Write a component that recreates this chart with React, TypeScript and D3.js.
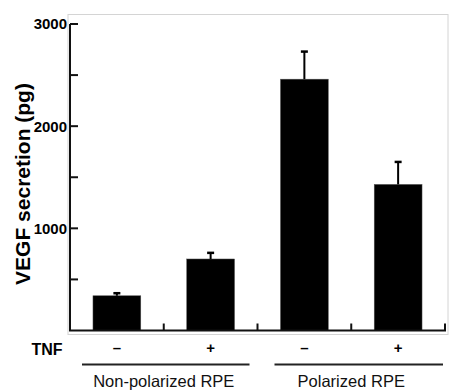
import React, { useRef, useEffect } from "react";
import * as d3 from "d3";

// Datos
const conditions = ["np-", "np+", "p-", "p+"];
const tnfLabels = ["–", "+", "–", "+"];
const values = [340, 700, 2460, 1430];
const errors = [25, 60, 270, 220];
const groups = ["Non-polarized RPE", "Polarized RPE"];
const groupMembers = [
  ["np-", "np+"],
  ["p-", "p+"],
];
const majorTicks = [1000, 2000, 3000];
const minorTicks = [500, 1500, 2500];

const App = () => {
  const ref = useRef<SVGSVGElement>(null);
  const width = 449;
  const height = 391;

  useEffect(() => {
    const container = ref.current;
    if (!container) return;
    d3.select(container).selectChildren().remove();
    const svg = d3.select(container);
    const font = "'Liberation Sans', Arial, sans-serif";

    // Marco gris del área de gráfico
    svg
      .append("rect")
      .attr("x", 68)
      .attr("y", 14.5)
      .attr("width", 380)
      .attr("height", 320)
      .attr("fill", "none")
      .attr("stroke", "#d4d4d4")
      .attr("stroke-width", 1);

    const left = 70,
      right = 445,
      bottom = 330.5,
      top = 24;

    const y = d3.scaleLinear().domain([0, 3000]).range([bottom, top]);
    const x = d3
      .scaleBand()
      .domain(conditions)
      .range([left, right])
      .paddingInner(0.49)
      .paddingOuter(0.245);
    const xCell = d3.scaleBand().domain(conditions).range([left, right]);

    // Barras
    const bar = svg.selectAll("g.bar").data(conditions).enter().append("g");
    bar
      .append("rect")
      .attr("x", (d) => x(d)!)
      .attr("y", (d, i) => y(values[i]))
      .attr("width", x.bandwidth())
      .attr("height", (d, i) => y(0) - y(values[i]))
      .attr("fill", "#000")
      .attr("stroke", "#555")
      .attr("stroke-width", 0.5);

    // Barras de error
    const cx = (d: string) => x(d)! + x.bandwidth() / 2;
    bar
      .append("line")
      .attr("x1", cx)
      .attr("x2", cx)
      .attr("y1", (d, i) => y(values[i]))
      .attr("y2", (d, i) => y(values[i] + errors[i]))
      .attr("stroke", "#000")
      .attr("stroke-width", 2);
    bar
      .append("line")
      .attr("x1", (d) => cx(d) - 3.5)
      .attr("x2", (d) => cx(d) + 3.5)
      .attr("y1", (d, i) => y(values[i] + errors[i]))
      .attr("y2", (d, i) => y(values[i] + errors[i]))
      .attr("stroke", "#000")
      .attr("stroke-width", 2.5);

    // Eje Y
    const axisColor = "#111";
    svg
      .append("line")
      .attr("x1", left)
      .attr("x2", left)
      .attr("y1", y(0))
      .attr("y2", y(3000))
      .attr("stroke", axisColor)
      .attr("stroke-width", 2);
    svg
      .selectAll("line.ytick")
      .data([...minorTicks, ...majorTicks])
      .enter()
      .append("line")
      .attr("x1", left)
      .attr("x2", left + 8)
      .attr("y1", (d) => y(d))
      .attr("y2", (d) => y(d))
      .attr("stroke", axisColor)
      .attr("stroke-width", 2);
    svg
      .selectAll("text.ylab")
      .data(majorTicks)
      .enter()
      .append("text")
      .attr("x", left - 3)
      .attr("y", (d) => y(d))
      .attr("dy", "0.36em")
      .attr("text-anchor", "end")
      .style("font-family", font)
      .style("font-weight", "bold")
      .style("font-size", "15px")
      .text((d) => d);

    // Rótulo eje Y
    svg
      .append("text")
      .attr("transform", `translate(30, ${(78 + 290) / 2}) rotate(-90)`)
      .attr("text-anchor", "middle")
      .style("font-family", font)
      .style("font-weight", "bold")
      .style("font-size", "21px")
      .text("VEGF secretion (pg)");

    // Eje X
    svg
      .append("line")
      .attr("x1", left - 1)
      .attr("x2", right + 1)
      .attr("y1", bottom)
      .attr("y2", bottom)
      .attr("stroke", axisColor)
      .attr("stroke-width", 2);
    svg
      .selectAll("line.xtick")
      .data(conditions)
      .enter()
      .append("line")
      .attr("x1", (d) => xCell(d)! + xCell.bandwidth())
      .attr("x2", (d) => xCell(d)! + xCell.bandwidth())
      .attr("y1", bottom)
      .attr("y2", bottom - 7)
      .attr("stroke", axisColor)
      .attr("stroke-width", 2);

    // Fila TNF
    svg
      .append("text")
      .attr("x", 47)
      .attr("y", 355)
      .attr("text-anchor", "middle")
      .style("font-family", font)
      .style("font-weight", "bold")
      .style("font-size", "16px")
      .text("TNF");
    svg
      .selectAll("text.tnf")
      .data(conditions)
      .enter()
      .append("text")
      .attr("x", cx)
      .attr("y", 353)
      .attr("text-anchor", "middle")
      .style("font-family", font)
      .style("font-weight", "bold")
      .style("font-size", "15px")
      .text((d, i) => tnfLabels[i]);

    // Grupos
    const grp = svg.selectAll("g.grp").data(groups).enter().append("g");
    const gStart = (i: number) => xCell(groupMembers[i][0])!;
    const gEnd = (i: number) =>
      xCell(groupMembers[i][groupMembers[i].length - 1])! + xCell.bandwidth();
    grp
      .append("line")
      .attr("x1", (d, i) => (i === 0 ? gStart(i) + 12 : gStart(i) + 17))
      .attr("x2", (d, i) => (i === 0 ? gEnd(i) - 8 : gEnd(i) - 2))
      .attr("y1", 364.5)
      .attr("y2", 364.5)
      .attr("stroke", "#222")
      .attr("stroke-width", 2);
    grp
      .append("text")
      .attr("x", (d, i) => (gStart(i) + gEnd(i)) / 2)
      .attr("y", 387)
      .attr("text-anchor", "middle")
      .style("font-family", font)
      .style("font-size", "16.5px")
      .attr("fill", "#111")
      .text((d) => d);
  }, []);

  return (
    <svg
      ref={ref}
      width={width}
      height={height}
      style={{ position: "absolute", left: 0, top: 0, background: "#fff" }}
    />
  );
};

export default App;
